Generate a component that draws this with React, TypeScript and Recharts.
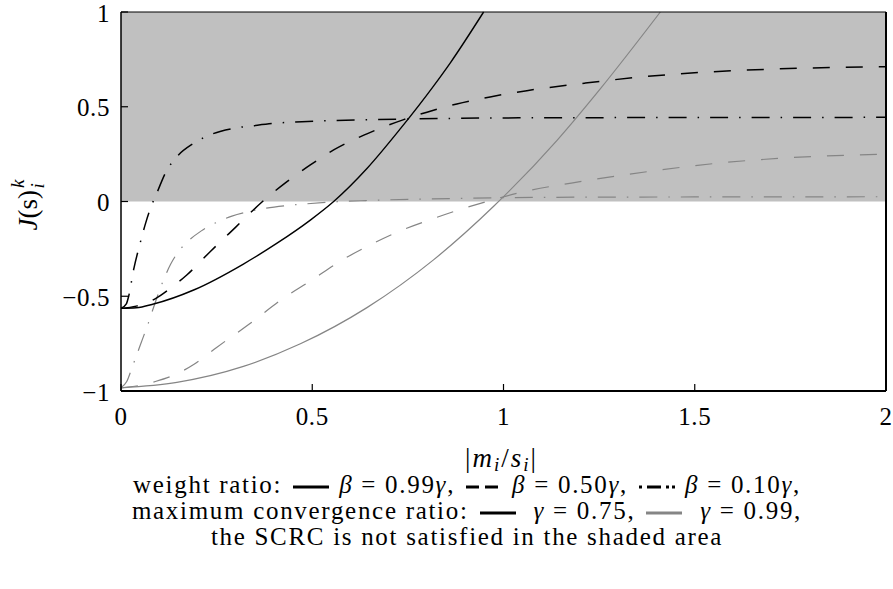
// convergence condition curves J(s)^k_i against |m_i/s_i|, shaded where the SCRC fails
import * as React from 'react';
import { LineChart, Line, XAxis, YAxis, ReferenceArea } from 'recharts';

if (typeof document !== 'undefined') document.body.style.margin = '0';

const FONT = '"Liberation Serif", "Times New Roman", serif';
const GRAY = '#858585';

const X_TICKS = [0, 0.5, 1, 1.5, 2];
const Y_TICKS = [-1, -0.5, 0, 0.5, 1];

// gamma = 0.75 (black curves), points as [x, y]
const SOLID_075 = [
  [0, -0.564], [0.04, -0.561], [0.085, -0.541], [0.19, -0.467], [0.32, -0.33],
  [0.408, -0.22], [0.495, -0.098], [0.556, 0], [0.643, 0.174], [0.73, 0.383],
  [0.817, 0.609], [0.861, 0.732], [0.948, 1.0],
];
const DASHED_075 = [
  [0, -0.564], [0.04, -0.552], [0.088, -0.515], [0.129, -0.458], [0.172, -0.388],
  [0.233, -0.265], [0.3, -0.135], [0.37, 0], [0.434, 0.105], [0.495, 0.193],
  [0.556, 0.272], [0.652, 0.365], [0.739, 0.432], [0.817, 0.482], [0.878, 0.515],
  [0.965, 0.552], [1.061, 0.585], [1.214, 0.625], [1.375, 0.66], [1.548, 0.685],
  [1.723, 0.7], [2, 0.711],
];
const DASHDOT_075 = [
  [0, -0.564], [0.014, -0.54], [0.02, -0.5], [0.033, -0.36], [0.05, -0.22],
  [0.065, -0.11], [0.08, -0.02], [0.094, 0.046], [0.116, 0.15], [0.146, 0.236],
  [0.19, 0.307], [0.238, 0.356], [0.294, 0.386], [0.347, 0.4], [0.398, 0.412],
  [0.473, 0.421], [0.748, 0.435], [1.12, 0.442], [2, 0.444],
];

// gamma = 0.99 (gray curves)
const SOLID_099 = [
  [0, -0.983], [0.146, -0.954], [0.32, -0.87], [0.469, -0.751], [0.643, -0.56],
  [0.817, -0.308], [0.975, -0.024], [1.14, 0.323], [1.254, 0.597], [1.41, 1.0],
];
const DASHED_099 = [
  [0, -0.983], [0.05, -0.97], [0.09, -0.95], [0.14, -0.915], [0.19, -0.86],
  [0.25, -0.77], [0.34, -0.64], [0.425, -0.51], [0.495, -0.42], [0.573, -0.315],
  [0.643, -0.238], [0.73, -0.155], [0.817, -0.09], [0.887, -0.042], [0.957, 0],
  [1.035, 0.043], [1.21, 0.108], [1.375, 0.157], [1.549, 0.2], [1.723, 0.228],
  [2, 0.25],
];
const DASHDOT_099 = [
  [0, -0.983], [0.015, -0.95], [0.03, -0.87], [0.05, -0.76], [0.07, -0.65],
  [0.09, -0.53], [0.11, -0.42], [0.13, -0.33], [0.15, -0.265], [0.175, -0.21],
  [0.21, -0.155], [0.25, -0.11], [0.29, -0.077], [0.33, -0.055], [0.38, -0.035],
  [0.43, -0.022], [0.48, -0.013], [0.55, -0.003], [0.64, 0.005], [0.9, 0.017],
  [1.12, 0.022], [1.5, 0.024], [2, 0.025],
];

const DASH = '17 16';
const DASHDOT = '18 11 1.5 11';

const SERIES = [
  { name: 'dashdot-099', pts: DASHDOT_099, color: GRAY, dash: DASHDOT, w: 1.2 },
  { name: 'dashed-099', pts: DASHED_099, color: GRAY, dash: DASH, w: 1.2 },
  { name: 'solid-099', pts: SOLID_099, color: GRAY, dash: undefined, w: 1.2 },
  { name: 'dashdot-075', pts: DASHDOT_075, color: '#000', dash: DASHDOT, w: 1.5 },
  { name: 'dashed-075', pts: DASHED_075, color: '#000', dash: DASH, w: 1.5 },
  { name: 'solid-075', pts: SOLID_075, color: '#000', dash: undefined, w: 1.4 },
];

const fmt = (v: number) => (v < 0 ? '\u2212' + Math.abs(v) : String(v));

function BottomTick(props: any) {
  const { x, y, payload } = props;
  return (
    <g>
      <line x1={x} y1={y} x2={x} y2={y - 7} stroke="#000" strokeWidth={1.2} />
      <text x={x} y={y + 25} textAnchor="middle" dominantBaseline="central" fontFamily={FONT} fontSize={25} letterSpacing={0.6} fill="#000">
        {fmt(payload.value)}
      </text>
    </g>
  );
}

function LeftTick(props: any) {
  const { x, y, payload } = props;
  return (
    <g>
      <line x1={x} y1={y} x2={x + 7} y2={y} stroke="#000" strokeWidth={1.2} />
      <text x={x - 11} y={y + 1} textAnchor="end" dominantBaseline="central" fontFamily={FONT} fontSize={25} letterSpacing={0.6} fill="#000">
        {fmt(payload.value)}
      </text>
    </g>
  );
}

function RightTick(props: any) {
  const { x, y } = props;
  return <line x1={x} y1={y} x2={x - 7} y2={y} stroke="#000" strokeWidth={1.2} />;
}

function XLabel(props: any) {
  const vb = props.viewBox || { x: 121, width: 765, y: 391 };
  const cx = vb.x + vb.width / 2 - 2;
  const cy = vb.y + 67;
  return (
    <text x={cx} y={cy} textAnchor="middle" dominantBaseline="central" fontFamily={FONT} fontSize={27} letterSpacing={2} fill="#000">
      <tspan>|</tspan>
      <tspan fontStyle="italic">m</tspan>
      <tspan fontStyle="italic" fontSize={19} dy={6}>i</tspan>
      <tspan dy={-6}>/</tspan>
      <tspan fontStyle="italic">s</tspan>
      <tspan fontStyle="italic" fontSize={19} dy={6}>i</tspan>
      <tspan dy={-6}>|</tspan>
    </text>
  );
}

function YLabel() {
  const cx = 28;
  const cy = 205;
  return (
    <text
      x={cx}
      y={cy}
      transform={`rotate(-90 ${cx} ${cy})`}
      textAnchor="middle"
      dominantBaseline="central"
      fontFamily={FONT}
      fontSize={27}
      fill="#000"
    >
      <tspan fontStyle="italic">J</tspan>
      <tspan>(s)</tspan>
      <tspan fontStyle="italic" fontSize={19} dx={2} dy={-11}>k</tspan>
      <tspan fontStyle="italic" fontSize={19} dx={-9} dy={20}>i</tspan>
    </text>
  );
}

function Swatch(props: { color: string; dash?: string }) {
  return (
    <svg width={38} height={10} style={{ verticalAlign: 'middle', margin: '0 9px 0 10px' }}>
      <line x1={1} y1={5} x2={37} y2={5} stroke={props.color} strokeWidth={3.2} strokeDasharray={props.dash} />
    </svg>
  );
}

function Legend() {
  const it = { fontStyle: 'italic' as const };
  return (
    <div
      style={{
        position: 'absolute',
        top: 472,
        left: 17,
        width: 900,
        textAlign: 'center',
        fontFamily: FONT,
        fontSize: 25,
        letterSpacing: '1.7px',
        lineHeight: '26px',
        color: '#000',
        whiteSpace: 'nowrap',
      }}
    >
      <div>
        weight ratio:<Swatch color="#000" />
        <span style={it}>β</span> = 0.99<span style={it}>γ</span>,<Swatch color="#000" dash="13 6" />
        <span style={it}>β</span> = 0.50<span style={it}>γ</span>,<Swatch color="#000" dash="3 5 14 5 3" />
        <span style={it}>β</span> = 0.10<span style={it}>γ</span>,
      </div>
      <div>
        maximum convergence ratio:<Swatch color="#000" />
        {'\u00a0'}<span style={it}>γ</span> = 0.75,<Swatch color={GRAY} />
        {'\u00a0'}<span style={it}>γ</span> = 0.99,
      </div>
      <div>the SCRC is not satisfied in the shaded area</div>
    </div>
  );
}

export default function App() {
  return (
    <div style={{ position: 'relative', width: 893, height: 589, overflow: 'hidden', background: '#fff' }}>
      <LineChart width={893} height={589} margin={{ top: 0, right: 0, bottom: 138, left: 0 }}>
        <XAxis
          xAxisId="b"
          dataKey="x"
          type="number"
          domain={[0, 2]}
          ticks={X_TICKS}
          height={60}
          tickSize={0}
          tickMargin={0}
          tickLine={false}
          tick={<BottomTick />}
          axisLine={{ stroke: '#000', strokeWidth: 2 }}
          label={<XLabel />}
        />
        <XAxis
          xAxisId="t"
          orientation="top"
          dataKey="x"
          type="number"
          domain={[0, 2]}
          ticks={X_TICKS}
          height={12}
          tick={false}
          tickLine={false}
          axisLine={{ stroke: '#000', strokeWidth: 1 }}
        />
        <YAxis
          yAxisId="l"
          type="number"
          domain={[-1, 1]}
          ticks={Y_TICKS}
          width={121}
          tickSize={0}
          tickMargin={0}
          tickLine={false}
          tick={<LeftTick />}
          axisLine={{ stroke: '#000', strokeWidth: 1.5 }}
          label={<YLabel />}
        />
        <YAxis
          yAxisId="r"
          orientation="right"
          type="number"
          domain={[-1, 1]}
          ticks={Y_TICKS}
          width={7}
          tickSize={0}
          tickMargin={0}
          tickLine={false}
          tick={<RightTick />}
          axisLine={{ stroke: '#000', strokeWidth: 2 }}
        />
        <ReferenceArea
          xAxisId="b"
          yAxisId="l"
          x1={0}
          x2={2}
          y1={0}
          y2={1}
          fill="#c0c0c0"
          fillOpacity={1}
          stroke="none"
        />
        {SERIES.map((s) => (
          <Line
            key={s.name}
            xAxisId="b"
            yAxisId="l"
            data={s.pts.map(([x, y]) => ({ x, y }))}
            dataKey="y"
            type="monotone"
            dot={false}
            activeDot={false}
            stroke={s.color}
            strokeWidth={s.w}
            strokeDasharray={s.dash}
            isAnimationActive={false}
          />
        ))}
      </LineChart>
      <Legend />
    </div>
  );
}
